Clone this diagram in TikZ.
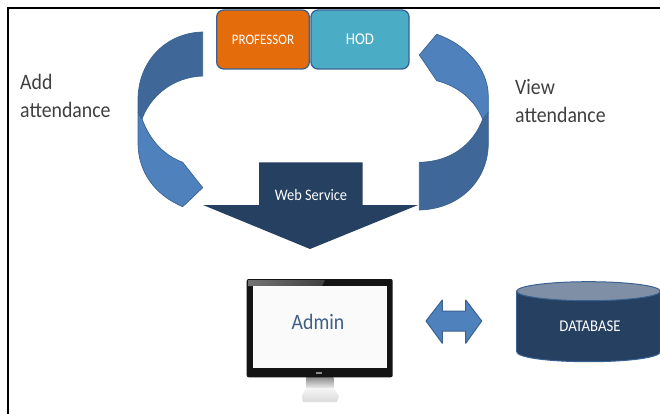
\documentclass[tikz,border=0pt]{standalone}
\usepackage{fontspec}
\setmainfont[FakeStretch=0.9]{Carlito}
\usetikzlibrary{shapes.geometric}
\definecolor{navy}{HTML}{254061}
\definecolor{edgeblue}{HTML}{3A6291}
\definecolor{lightblue}{HTML}{4F81BD}
\definecolor{darkblue}{HTML}{3F6797}
\definecolor{orangebox}{HTML}{E46C0A}
\definecolor{tealbox}{HTML}{4BACC6}
\definecolor{dbtop}{HTML}{7F8FA6}
\definecolor{admintext}{HTML}{3F5F85}
\tikzset{
  ribbon/.style={draw=edgeblue,line width=0.7pt,line join=round},
  topbox/.style={draw=edgeblue,line width=1.3pt,rounded corners=7pt},
  labeltext/.style={inner sep=0pt,text=white},
  sidetext/.style={inner sep=0pt,font=\fontsize{22}{28}\selectfont,text=black!75,align=left,anchor=west},
}
\begin{document}
\begin{tikzpicture}[x=1pt,y=-1pt]
\useasboundingbox (0,0) rectangle (660,414);
\fill[white] (0,0) rectangle (660,414);
% frame
\fill[black] (7,7) rectangle (660,9);
\fill[black] (7,7) rectangle (9,414);
% left ribbon
\path[ribbon,fill=lightblue] (142,119) .. controls (150,140) and (163,155) .. (182.7,162.3)
  -- (202.7,187.7) -- (182.7,206.7) .. controls (155,195) and (138,172) .. (138,143)
  -- (138,112) -- cycle;
\path[ribbon,fill=darkblue] (202.7,32) .. controls (165,33) and (138,62) .. (138,100)
  -- (138,112) -- (142,119) .. controls (150,97) and (172,77) .. (202.7,76) -- cycle;
% right ribbon
\path[ribbon,fill=darkblue] (419.3,162.3) .. controls (450,162) and (473,145) .. (482.7,119.3)
  -- (488.3,112) -- (488.3,143) .. controls (488.3,180) and (460,209) .. (419.3,210) -- cycle;
\path[ribbon,fill=lightblue] (436.7,34.3) .. controls (465,44) and (488.3,68) .. (488.3,96.7)
  -- (488.3,112) -- (482.7,119.3) .. controls (475,100) and (458,86) .. (436.7,80.7)
  -- (419.3,55) -- cycle;
% top boxes
\node[topbox,fill=orangebox,minimum width=92.6pt,minimum height=59pt,inner sep=0pt,
  text=white,font=\fontsize{14.5}{16}\selectfont] (prof) at (263,39.5) {PROFESSOR};
\node[topbox,fill=tealbox,minimum width=98pt,minimum height=59pt,inner sep=0pt,
  text=white,font=\fontsize{16.5}{18}\selectfont] (hod) at (360,39.5) {HOD};
% web service arrow
\fill[navy] (259,162.3) -- (362.7,162.3) -- (362.7,205) -- (418,205) -- (310,249) -- (203,205) -- (259,205) -- cycle;
\node[labeltext,font=\fontsize{16}{20}\selectfont] (ws) at (311,195) {Web Service};
% side labels
\node[sidetext] (add) at (20,96) {Add\\attendance};
\node[sidetext] (view) at (515,101) {View\\attendance};
% monitor
\shade[top color=black!45,bottom color=black!8] (306,377) rectangle (333.3,388);
\shade[top color=black!4,bottom color=black!14] (306,388) -- (333.3,388) -- (339,396) -- (337,402) -- (303,402) -- (301.7,396) -- cycle;
\fill[black!92,rounded corners=2pt] (246.7,279) rectangle (392.7,377.3);
\shade[left color=black!55,right color=black!75] (248,280) -- (325,280) -- (322,286) -- (252.7,286) -- (248,286) -- cycle;
\fill[white!98!black] (252.7,286) rectangle (386.7,368.3);
\fill[black!45] (316,372) rectangle (322,374);
\node[inner sep=0pt,text=admintext,font=\fontsize{22}{27}\selectfont] (admin) at (318,322) {Admin};
% double arrow
\path[ribbon,fill=lightblue,line width=1pt] (426,321) -- (442.3,300) -- (442.3,311) -- (465.7,311)
  -- (465.7,300) -- (481.7,321) -- (465.7,343.3) -- (465.7,331) -- (442.3,331) -- (442.3,343.3) -- cycle;
% database
\path[draw=edgeblue,line width=1pt,fill=navy] (516.7,291) -- (516.7,351.7)
  .. controls (516.7,357.5) and (548,361.7) .. (588.5,361.7)
  .. controls (629,361.7) and (660.3,357.5) .. (660.3,351.7) -- (660.3,291) -- cycle;
\path[draw=edgeblue,line width=1pt,fill=dbtop] (588.5,291.2) ellipse [x radius=71.8,y radius=9.5];
\node[labeltext,font=\fontsize{16.4}{18}\selectfont] (db) at (590,326.7) {DATABASE};
\end{tikzpicture}
\end{document}
